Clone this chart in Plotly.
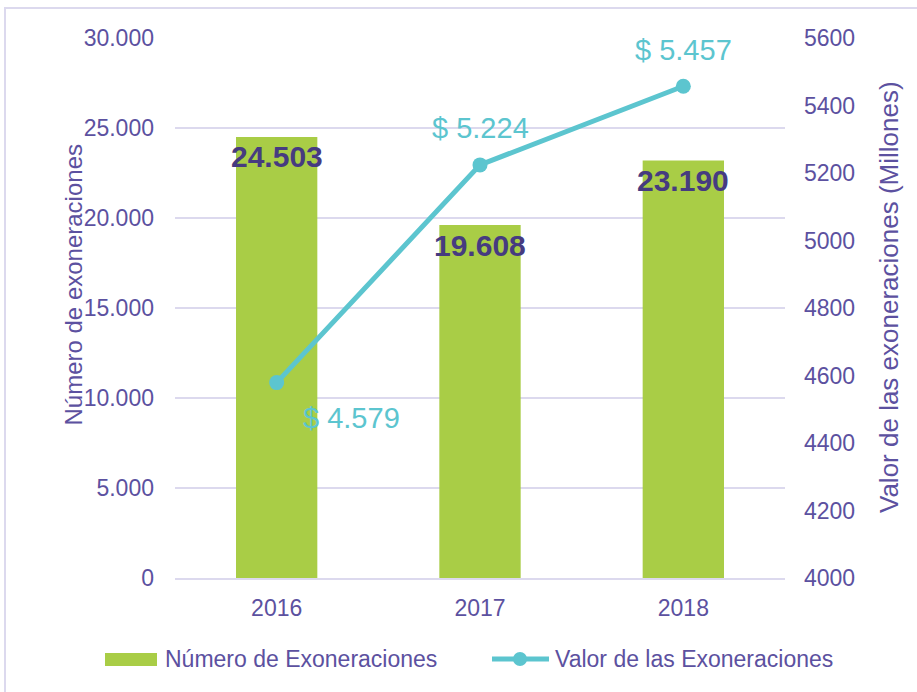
import plotly.graph_objects as go

# Exoneraciones por año
years = ["2016", "2017", "2018"]
numero_exoneraciones = [24503, 19608, 23190]
valor_exoneraciones = [4579, 5224, 5457]  # millones

left_ticks = [0, 5000, 10000, 15000, 20000, 25000, 30000]
right_ticks = [4000, 4200, 4400, 4600, 4800, 5000, 5200, 5400, 5600]

GREEN = "#a9cd46"
TEAL = "#5cc5cf"
PURPLE = "#5c51a0"
DARK = "#463b80"
GRID = "#dcd9ee"
FONT = "Liberation Sans, Arial, sans-serif"

W, H = 917, 692
L, R, T, B = 175, 132, 38, 114
PW, PH = W - L - R, H - T - B


def px(x):
    return (x - L) / PW


def py(y):
    return (H - B - y) / PH


def miles(v):
    return f"{v:,}".replace(",", ".")


pos = list(range(len(years)))

fig = go.Figure()

fig.add_trace(go.Bar(
    x=pos, y=numero_exoneraciones, name="Número de Exoneraciones",
    marker=dict(color=GREEN, line=dict(width=0)), width=0.4,
    showlegend=False, yaxis="y", hoverinfo="skip",
))
fig.add_trace(go.Scatter(
    x=pos, y=valor_exoneraciones, name="Valor de las Exoneraciones",
    mode="lines+markers", yaxis="y2",
    line=dict(color=TEAL, width=5), marker=dict(color=TEAL, size=15),
    showlegend=False, hoverinfo="skip",
))

annotations = []
# etiquetas de las barras
for p, v in zip(pos, numero_exoneraciones):
    annotations.append(dict(
        x=p, y=v, xref="x", yref="y", text=miles(v), showarrow=False,
        yanchor="middle", yshift=-20,
        font=dict(family=FONT, size=30, color=DARK, weight="bold"),
    ))
# etiquetas de la línea
line_offsets = [(75, -35), (0, 37), (0, 36)]
for p, v, (dx, dy) in zip(pos, valor_exoneraciones, line_offsets):
    annotations.append(dict(
        x=p, y=v, xref="x", yref="y2", text="$ " + miles(v), showarrow=False,
        xshift=dx, yshift=dy, yanchor="middle",
        font=dict(family=FONT, size=29, color=TEAL),
    ))
# títulos de los ejes
annotations.append(dict(
    x=px(57), y=py(285), xref="paper", yref="paper", text="Número de exoneraciones",
    textangle=-90, showarrow=False, font=dict(family=FONT, size=24, color=PURPLE),
))
annotations.append(dict(
    x=px(906), y=py(297), xref="paper", yref="paper",
    text="Valor de las exoneraciones (Millones)",
    textangle=-90, showarrow=False, font=dict(family=FONT, size=26, color=PURPLE),
))
# leyenda
annotations.append(dict(
    x=px(163), y=py(659), xref="paper", yref="paper", text="Número de Exoneraciones",
    xanchor="left", yanchor="middle", showarrow=False,
    font=dict(family=FONT, size=23, color=PURPLE),
))
annotations.append(dict(
    x=px(553), y=py(659), xref="paper", yref="paper", text="Valor de las Exoneraciones",
    xanchor="left", yanchor="middle", showarrow=False,
    font=dict(family=FONT, size=23, color=PURPLE),
))

shapes = [
    # marco
    dict(type="rect", xref="paper", yref="paper", x0=px(5), x1=px(930),
         y0=py(700), y1=py(8), line=dict(color=GRID, width=2), layer="below"),
    # símbolos de la leyenda
    dict(type="rect", xref="paper", yref="paper", x0=px(105), x1=px(157),
         y0=py(666), y1=py(653), fillcolor=GREEN, line=dict(width=0)),
    dict(type="line", xref="paper", yref="paper", x0=px(492), x1=px(549),
         y0=py(659), y1=py(659), line=dict(color=TEAL, width=5)),
    dict(type="circle", xref="paper", yref="paper", x0=px(513), x1=px(527),
         y0=py(666), y1=py(652), fillcolor=TEAL, line=dict(width=0)),
]

fig.update_layout(
    width=W, height=H, margin=dict(l=L, r=R, t=T, b=B),
    paper_bgcolor="white", plot_bgcolor="white",
    separators=",.", showlegend=False,
    font=dict(family=FONT, color=PURPLE),
    xaxis=dict(
        range=[-0.5, len(years) - 0.5], tickvals=pos, ticktext=years,
        showgrid=False, zeroline=False,
        showline=True, linecolor=GRID, linewidth=2,
        ticks="", ticklabelstandoff=8, tickfont=dict(size=23, color=PURPLE),
    ),
    yaxis=dict(
        range=[0, 30000], tickvals=left_ticks, tickformat=",d",
        showgrid=True, gridcolor=GRID, gridwidth=2, zeroline=False,
        showline=False, ticks="", ticklabelstandoff=20,
        tickfont=dict(size=23, color=PURPLE),
    ),
    yaxis2=dict(
        range=[4000, 5600], tickvals=right_ticks, tickformat="d",
        overlaying="y", side="right", showgrid=False, zeroline=False,
        showline=False, ticks="", ticklabelstandoff=18,
        tickfont=dict(size=23, color=PURPLE),
    ),
    annotations=annotations, shapes=shapes,
)

fig.write_html("out.html")
